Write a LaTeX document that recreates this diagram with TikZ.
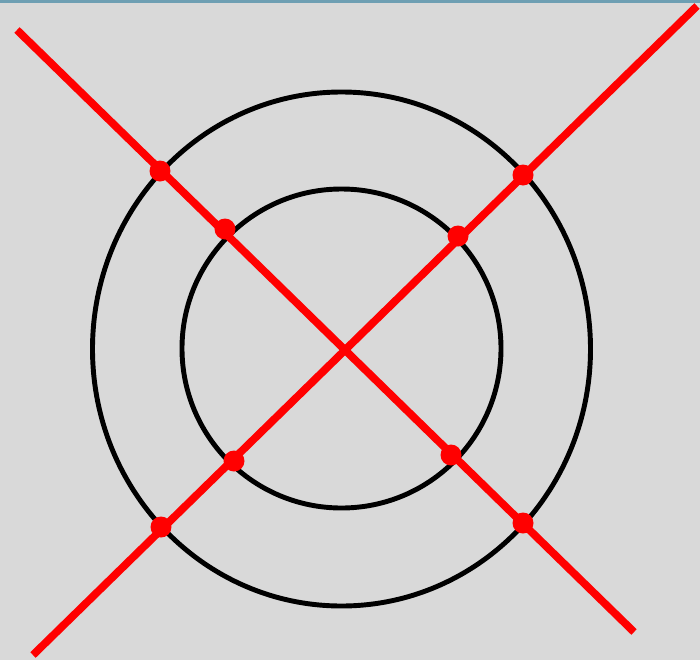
\documentclass[tikz,border=0pt]{standalone}
\usepackage{tikz}
\usetikzlibrary{calc}

\definecolor{bggray}{HTML}{D9D9D9}
\definecolor{topband}{HTML}{6E9FB3}

\tikzset{
    ring/.style={draw=black, line width=2.8pt},
    cross/.style={draw=red, line width=4.4pt},
    hit/.style={circle, fill=red, inner sep=0pt, minimum size=0.42cm}
}

\begin{document}
\begin{tikzpicture}[x=0.02cm, y=-0.02cm]
        \fill[bggray] (0,0) rectangle (700,660);
        \fill[topband] (0,0) rectangle (700,3);
        \useasboundingbox (0,0) rectangle (700,660);

        % two rings
        \draw[ring] (341.5,349) ellipse [x radius=249, y radius=257];
        \draw[ring] (341.5,348.5) ellipse [x radius=159.5, y radius=159.5];

        % ends of the two lines
        \coordinate (A1) at (17,30);
        \coordinate (A2) at (634,632);
        \coordinate (B1) at (33,655);
        \coordinate (B2) at (697,6);

        \draw[cross] (A1) -- (A2);
        \draw[cross] (B1) -- (B2);

        % crossing points
        \node[hit] (P1) at (160,171) {};
        \node[hit] (P2) at (225,229) {};
        \node[hit] (P3) at (451,455) {};
        \node[hit] (P4) at (523,523) {};
        \node[hit] (Q1) at (161,527) {};
        \node[hit] (Q2) at (234,461) {};
        \node[hit] (Q3) at (458,236) {};
        \node[hit] (Q4) at (523,175) {};
    \end{tikzpicture}
\end{document}
